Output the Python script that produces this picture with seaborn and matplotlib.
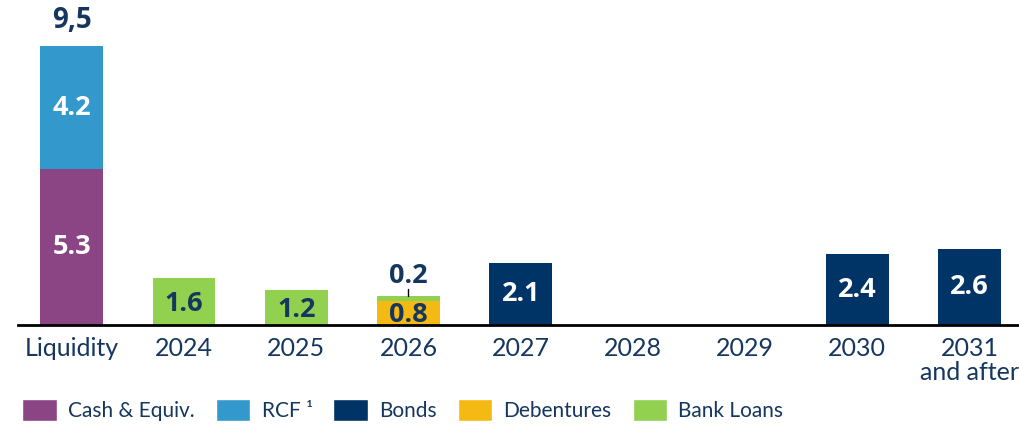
import numpy as np
import matplotlib
matplotlib.use("Agg")
import matplotlib.pyplot as plt
from matplotlib.patches import Patch
import seaborn as sns

# data
categories = ["Liquidity", "2024", "2025", "2026", "2027", "2028", "2029", "2030", "2031\nand after"]
cash = [5.3, 0, 0, 0, 0, 0, 0, 0, 0]
rcf = [4.2, 0, 0, 0, 0, 0, 0, 0, 0]
debentures = [0, 0, 0, 0.8, 0, 0, 0, 0, 0]
bank_loans = [0, 1.6, 1.2, 0.2, 0, 0, 0, 0, 0]
bonds = [0, 0, 0, 0, 2.1, 0, 0, 2.4, 2.6]
total_label = "9,5"

series_names = ["Cash & Equiv.", "RCF \u00b9", "Bonds", "Debentures", "Bank Loans"]
colors = {"Cash & Equiv.": "#8B4585", "RCF \u00b9": "#3399CC", "Bonds": "#003366",
          "Debentures": "#F5B914", "Bank Loans": "#92D050"}
navy = "#15365E"

sns.set_style("white")
plt.rcParams["font.family"] = ["Lato", "DejaVu Sans"]
value_font = ["Open Sans", "DejaVu Sans"]

fig = plt.figure(figsize=(10.2, 4.25), dpi=100)
ax = fig.add_axes([18 / 1020, 100 / 425, 1002 / 1020, 323 / 425])

# stack order bottom -> top, drawn as cumulative heights from the top layer down
stack = [("Cash & Equiv.", cash), ("Debentures", debentures), ("Bank Loans", bank_loans),
         ("RCF \u00b9", rcf), ("Bonds", bonds)]
cum = np.cumsum([np.array(v) for _, v in stack], axis=0)
for i in range(len(stack) - 1, -1, -1):
    name = stack[i][0]
    sns.barplot(x=categories, y=cum[i], color=colors[name], saturation=1,
                width=0.56, ax=ax, linewidth=0)

# segment labels
def seg_label(x, lo, val, color, dy=0.0):
    ax.text(x, lo + val / 2 + dy, f"{val:.1f}", ha="center", va="center",
            fontsize=19.5, fontweight="bold", color=color, family=value_font)

seg_label(0, 0, cash[0], "white")
seg_label(0, cash[0], rcf[0], "white")
seg_label(1, 0, bank_loans[1], navy, -0.1)
seg_label(2, 0, bank_loans[2], navy, -0.1)
seg_label(3, 0, debentures[3], navy, -0.05)
for i, v in enumerate(bonds):
    if v > 0:
        seg_label(i, 0, v, "white")

# small bank loan on 2026 labelled above with a leader tick
ax.text(3, 1.68, f"{bank_loans[3]:.1f}", ha="center", va="center",
        fontsize=19.5, fontweight="bold", color=navy, family=value_font)
ax.plot([3, 3], [1.0, 1.22], color="black", lw=1)

ax.text(0, cash[0] + rcf[0] + 0.85, total_label, ha="center", va="center",
        fontsize=20, fontweight="bold", color=navy, family=value_font)

ax.set_xlim(-0.48, 8.45)
ax.set_ylim(0, 10.99)
ax.set_yticks([])
ax.set_ylabel("")
sns.despine(ax=ax, left=True, top=True, right=True)
ax.spines["bottom"].set_color("black")
ax.spines["bottom"].set_linewidth(2)
ax.tick_params(axis="x", length=0, pad=9, labelsize=18, labelcolor=navy)
for lbl in ax.get_xticklabels():
    lbl.set_linespacing(1.0)

handles = [Patch(facecolor=colors[n], label=n) for n in series_names]
leg = fig.legend(handles=handles, loc="lower left", bbox_to_anchor=(10 / 1020, -0.02),
                 ncol=5, frameon=False, fontsize=15, handlelength=1.65, handleheight=1.25,
                 handletextpad=0.55, columnspacing=1.0, borderpad=0.1)
for t in leg.get_texts():
    t.set_color(navy)

fig.savefig("out.png", dpi=100)
